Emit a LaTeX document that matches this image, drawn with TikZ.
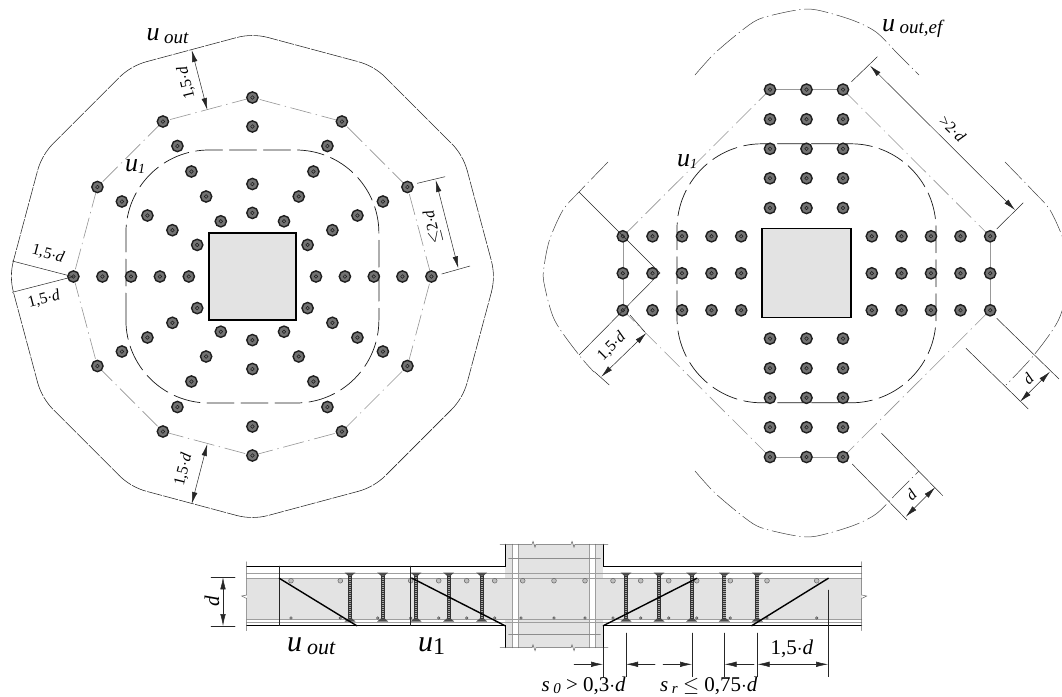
\documentclass[tikz,border=0pt]{standalone}
\usepackage{fontspec}
\setmainfont{Liberation Serif}
\usetikzlibrary{arrows.meta}
\definecolor{concrete}{HTML}{E3E3E3}
\tikzset{
    studnode/.style={circle,draw=black!88,line width=1.4pt,fill=black!55,inner sep=0pt,minimum size=11.3pt,
        path picture={\draw[line width=.5pt,black!90] (path picture bounding box.center) circle(1.8pt);}},
    perimline/.style={black!42,line width=.6pt,dash pattern=on 21pt off 5pt on 1pt off 5pt},
    outline/.style={black!85,line width=.55pt,dash pattern=on 15pt off 1.5pt},
    uline/.style={black!90,line width=.7pt,dash pattern=on 27pt off 7pt},
    lobeline/.style={black!75,line width=.5pt,dash pattern=on 24pt off 4pt on 1pt off 4pt},
    dimline/.style={black!85,line width=.5pt},
    bar/.style={black!38,line width=.7pt},
    dimtext/.style={inner sep=0pt,font=\fontsize{16}{16}\selectfont},
    secttext/.style={inner sep=0pt,font=\fontsize{21}{21}\selectfont},
    plantext/.style={inner sep=0pt,anchor=base west,font=\fontsize{26}{26}\selectfont},
    bigtext/.style={inner sep=0pt,anchor=base west,font=\fontsize{30}{30}\selectfont},
}
\begin{document}
\begin{tikzpicture}[x=1pt,y=1pt,>={Latex[length=12pt,width=5.5pt]},line cap=round]
    \useasboundingbox (0,0) rectangle (1062,-696);

    % left plan, origin in the column centre
    \begin{scope}[shift={(252.4,-276.5)}]
        % column
        \draw[fill=concrete,line width=1.2pt] (-43.5,-43.5) rectangle (43.5,43.5);
        % control perimeter u1
        \draw[uline,rounded corners=83pt] (-126.5,-126.5) rectangle (126.5,126.5);
        % outer perimeter, a straight piece and an arc per stud
        \foreach \a in {0,30,...,330} {
            \draw[perimline] (\a:179) -- (\a+30:179);
            \draw[outline] (\a:179) ++(\a-15:62) arc[start angle=\a-15,end angle=\a+15,radius=62]
                -- ++(\a+105:92.7);
        }
        % studs on the axes
        \foreach \r [count=\i] in {63.6,92.5,150,179} {
            \node[studnode] (vt\i) at (0,\r) {};
            \node[studnode] (vb\i) at (0,-\r) {};
        }
        \foreach \r [count=\i] in {63.6,92.5,121.4,150,179} {
            \node[studnode] (hl\i) at (-\r,0) {};
            \node[studnode] (hr\i) at (\r,0) {};
        }
        % studs on the diagonals
        \foreach \dx/\dy [count=\i] in {31.6/55.2,46.3/80,61/105,75/130.5,89.5/155,
                55.2/31.6,80/46.3,105/61,130.5/75,155/89.5} {
            \node[studnode] (dtr\i) at (\dx,\dy) {};
            \node[studnode] (dtl\i) at (-\dx,\dy) {};
            \node[studnode] (dbr\i) at (\dx,-\dy) {};
            \node[studnode] (dbl\i) at (-\dx,-\dy) {};
        }
    \end{scope}

    % left plan dimensions
    \draw[dimline,<->] (191.7,-50) -- (207.3,-110);
    \draw[dimline,<->] (207.3,-444) -- (191.7,-504);
    \draw[dimline,<->] (435.7,-180) -- (458.3,-268.3);
    \draw[dimline] (417.3,-183.3) -- (445,-176.7);
    \draw[dimline] (441.7,-274) -- (470,-266);
    \draw[dimline] (12.3,-261) -- (73,-276.7) -- (12.3,-292.3);
    \node[dimtext,rotate=104] (topdim) at (186.5,-83) {1,5$\cdot$\textit{d}};
    \node[dimtext,rotate=76] (botdim) at (183.5,-470) {1,5$\cdot$\textit{d}};
    \node[dimtext,rotate=104] (maxdim) at (433,-227) {$\leq$2$\cdot$\textit{d}};
    \node[dimtext,rotate=-15] (updim) at (48,-254) {1,5$\cdot$\textit{d}};
    \node[dimtext,rotate=15] (lodim) at (44,-299) {1,5$\cdot$\textit{d}};
    \node[plantext] (uoutl) at (146.5,-40) {\textit{u}\,\raisebox{-3pt}{\fontsize{19}{19}\selectfont\textit{out}}};
    \node[plantext] (uonel) at (125,-171.5) {\textit{u}\raisebox{-2pt}{\fontsize{14}{14}\selectfont\textit{1}}};

    % right plan, origin in the column centre
    \begin{scope}[shift={(806.5,-273.3)}]
        \draw[fill=concrete,line width=1.2pt] (-44.5,-44.5) rectangle (44.5,44.5);
        \draw[uline,rounded corners=85pt] (-129.5,-129.5) rectangle (129.5,129.5);
        % perimeter through the outer studs
        \draw[black!40,line width=.9pt] (-36.5,183.7) -- (36.5,183.7);
        \draw[black!40,line width=.9pt] (-36.5,-183.7) -- (36.5,-183.7);
        \draw[black!40,line width=.9pt] (183.5,37) -- (183.5,-37);
        \draw[black!40,line width=.9pt] (-183.5,37) -- (-183.5,-37);
        \draw[perimline] (36.5,183.7) -- (183.5,37);
        \draw[perimline] (183.5,-37) -- (36.5,-183.7);
        \draw[perimline] (-36.5,-183.7) -- (-183.5,-37);
        \draw[perimline] (-183.5,37) -- (-36.5,183.7);
        % studs along the vertical arms
        \foreach \c [count=\j] in {-36.5,0,36.5} {
            \foreach \r [count=\i] in {65.3,95,124.5,154,183.7} {
                \node[studnode] (ta\j\i) at (\c,\r) {};
                \node[studnode] (ba\j\i) at (\c,-\r) {};
            }
        }
        % studs along the horizontal arms
        \foreach \c [count=\j] in {-37,0,37} {
            \foreach \r [count=\i] in {65.3,95,124.5,154,183.7} {
                \node[studnode] (la\j\i) at (-\r,\c) {};
                \node[studnode] (ra\j\i) at (\r,\c) {};
            }
        }
    \end{scope}

    % effective outer perimeter, four lobes
    \draw[lobeline] plot[smooth] coordinates {(695,-75) (715,-53) (745,-28) (762,-18) (797,-10) (817,-10) (852,-20) (876,-32) (897,-53) (919,-75)};
    \draw[lobeline] plot[smooth] coordinates {(695,-471) (715,-493) (745,-518) (762,-528) (797,-536) (817,-536) (852,-526) (876,-514) (897,-493) (919,-471)};
    \draw[lobeline] plot[smooth] coordinates {(608,-162) (579,-192) (563,-210) (549.5,-240) (544,-267) (544,-283) (554.5,-320) (579,-355) (594,-372)};
    \draw[lobeline] plot[smooth] coordinates {(1005,-162) (1034,-192) (1050,-210) (1063.5,-240) (1069,-267) (1069,-283) (1058.5,-320) (1034,-355) (1006,-385)};

    % right plan dimensions
    \draw[dimline] (579,-192) -- (660,-273) -- (579,-355);
    \draw[dimline,<->] (870,-65.7) -- (1015,-210);
    \draw[dimline] (851.5,-81.7) -- (877.4,-56.7);
    \draw[dimline] (996.7,-229) -- (1023.3,-202.7);
    \draw[dimline,<->] (646.3,-333) -- (601.3,-376.7);
    \draw[dimline] (594.4,-371.7) -- (609.3,-385);
    \draw[dimline] (630,-315) -- (644.6,-331.7);
    \draw[dimline,<->] (1050,-371.7) -- (1020,-401.7);
    \draw[dimline] (996.7,-318.3) -- (1059,-379);
    \draw[dimline] (966,-348.3) -- (1028.3,-409);
    \draw[dimline,<->] (935.2,-487.3) -- (905.8,-516.7);
    \draw[dimline] (852.2,-464) -- (907,-520);
    \draw[dimline] (881.6,-433.3) -- (942.8,-495.7);
    \node[dimtext,rotate=-44] (gtdim) at (952.5,-128.5) {>2$\cdot$\textit{d}};
    \node[dimtext,rotate=45] (lobedim) at (611.7,-346.5) {1,5$\cdot$\textit{d}};
    \node[dimtext,rotate=45] (ddimr) at (1028,-378.3) {\textit{d}};
    \node[dimtext,rotate=45] (ddimb) at (911,-495) {\textit{d}};
    \node[plantext] (uoutr) at (882,-31.5) {\textit{u}\,\raisebox{-2pt}{\fontsize{19}{19}\selectfont\textit{out,ef}}};
    \node[plantext] (uoner) at (677,-166) {\textit{u}\raisebox{-2pt}{\fontsize{14}{14}\selectfont\textit{1}}};

    % section: concrete
    \fill[concrete] (246.7,-578) rectangle (861.7,-620);
    \fill[concrete] (505,-544.3) rectangle (603.3,-647.7);
    \fill[white] (512.3,-544.3) rectangle (518.3,-647.7);
    \fill[white] (589.3,-544.3) rectangle (595.7,-647.7);
    \draw[bar] (512.3,-544.3) -- (512.3,-647.7);
    \draw[bar] (518.3,-544.3) -- (518.3,-647.7);
    \draw[bar] (589.3,-544.3) -- (589.3,-647.7);
    \draw[bar] (595.7,-544.3) -- (595.7,-647.7);

    % section: reinforcement
    \foreach \y in {573.3,578.3,619.3,622.3} {
        \draw[bar] (246.7,-\y) -- (861.7,-\y);
    }
    \foreach \y in {558.3,634.3} {
        \draw[black!45,line width=1.6pt] (509,-\y) -- (600,-\y);
    }
    \foreach \x in {291,340.3,410.7,438.7,466.7,494.7,522.7,554,585,613,640.7,668.7,696.7,730.3,767,816.7} {
        \draw[black!60,fill=black!25,line width=.5pt] (\x,-580.7) circle(2.4);
    }
    \foreach \x in {291,340.3,377.7,410.7,438.7,466.7,494.7,521,554,585,613,640.7,668.7,696.7,730.3,767,816.7} {
        \draw[black!70,fill=black!35,line width=.4pt] (\x,-618) circle(1.3);
    }

    % section: studs
    \foreach \x in {350,382.7,416,448.7,481.7,626,659,691.7,724.3,757.3} {
        \draw[black!80,line width=4pt,line cap=butt] (\x,-575) -- (\x,-620);
        \draw[black!35,line width=2.4pt,line cap=butt,dash pattern=on 1pt off 1pt] (\x,-575) -- (\x,-620);
        \fill[black!70] (\x-5.5,-572.5) -- (\x+5.5,-572.5) -- (\x+2,-575.5) -- (\x-2,-575.5) -- cycle;
        \fill[black!70] (\x-5.5,-621.5) -- (\x+5.5,-621.5) -- (\x+2,-618.5) -- (\x-2,-618.5) -- cycle;
    }

    % section: outline and breaks
    \draw[line width=1pt] (246.7,-566) -- (505,-566) -- (505,-544.3);
    \draw[line width=1pt] (246.7,-625.7) -- (505,-625.7) -- (505,-647.7);
    \draw[line width=1pt] (861.7,-566) -- (603.3,-566) -- (603.3,-544.3);
    \draw[line width=1pt] (861.7,-625.7) -- (603.3,-625.7) -- (603.3,-647.7);
    \foreach \y in {544.3,647.7} {
        \draw[dimline,black!60] (500,-\y) -- (532,-\y) -- (533,-\y+3) -- (535,-\y-3) -- (536,-\y) -- (571,-\y) -- (572,-\y+3) -- (574,-\y-3) -- (575,-\y) -- (608,-\y);
    }
    \foreach \x/\s in {246.7/-1,861.7/1} {
        \draw[dimline,black!60] (\x,-561.7) -- (\x,-595) -- (\x+\s*5,-596) -- (\x+\s*1,-598) -- (\x,-598) -- (\x,-630.7);
    }
    \draw[dimline] (279.3,-566) -- (279.3,-625.7);
    \draw[dimline] (410.3,-566) -- (410.3,-625.7);

    % section: failure lines
    \draw[line width=1.4pt] (279.3,-578.3) -- (356.7,-625.7);
    \draw[line width=1.4pt] (411.7,-578) -- (505,-625.7);
    \draw[line width=1.4pt] (603.3,-625.7) -- (696.7,-578.3);
    \draw[line width=1.4pt] (751.7,-625.7) -- (828.3,-578.3);

    % section dimensions
    \draw[dimline] (211,-577.3) -- (235,-577.3);
    \draw[dimline] (211,-626) -- (235,-626);
    \draw[dimline,<->] (223,-577.3) -- (223,-626);
    \draw[dimline] (603.3,-647) -- (603.3,-676.7);
    \draw[dimline] (626,-633) -- (626,-676.7);
    \draw[dimline] (692.3,-633) -- (692.3,-676.7);
    \draw[dimline] (724.3,-633) -- (724.3,-676.7);
    \draw[dimline] (757.3,-633) -- (757.3,-676.7);
    \draw[dimline] (828.3,-590) -- (828.3,-676.7);
    \draw[dimline,->] (574,-664.3) -- (603,-664.3);
    \draw[dimline,->] (655,-664.3) -- (626,-664.3);
    \draw[dimline,->] (663,-664.3) -- (692,-664.3);
    \draw[dimline,->] (754,-664.3) -- (724.5,-664.3);
    \draw[dimline,<->] (757.5,-664.3) -- (828,-664.3);
    \node[secttext,rotate=90] (dsect) at (212,-601.7) {\textit{d}};
    \node[secttext,anchor=base] (dim15) at (792,-654) {1,5$\cdot$\textit{d}};
    \node[secttext,anchor=base west] (szero) at (541.5,-691.7) {\textit{s}\,\raisebox{-2pt}{\fontsize{15}{15}\selectfont\textit{0}} > 0,3$\cdot$\textit{d}};
    \node[secttext,anchor=base west] (sr) at (660,-691.7) {\textit{s}\,\raisebox{-2pt}{\fontsize{15}{15}\selectfont\textit{r}} $\leq$ 0,75$\cdot$\textit{d}};
    \node[bigtext] (uouts) at (287,-651.7) {\textit{u}\,\raisebox{-3pt}{\fontsize{22}{22}\selectfont\textit{out}}};
    \node[bigtext] (uones) at (418,-651.7) {\textit{u}\raisebox{-3pt}{\fontsize{24}{24}\selectfont 1}};
\end{tikzpicture}
\end{document}
